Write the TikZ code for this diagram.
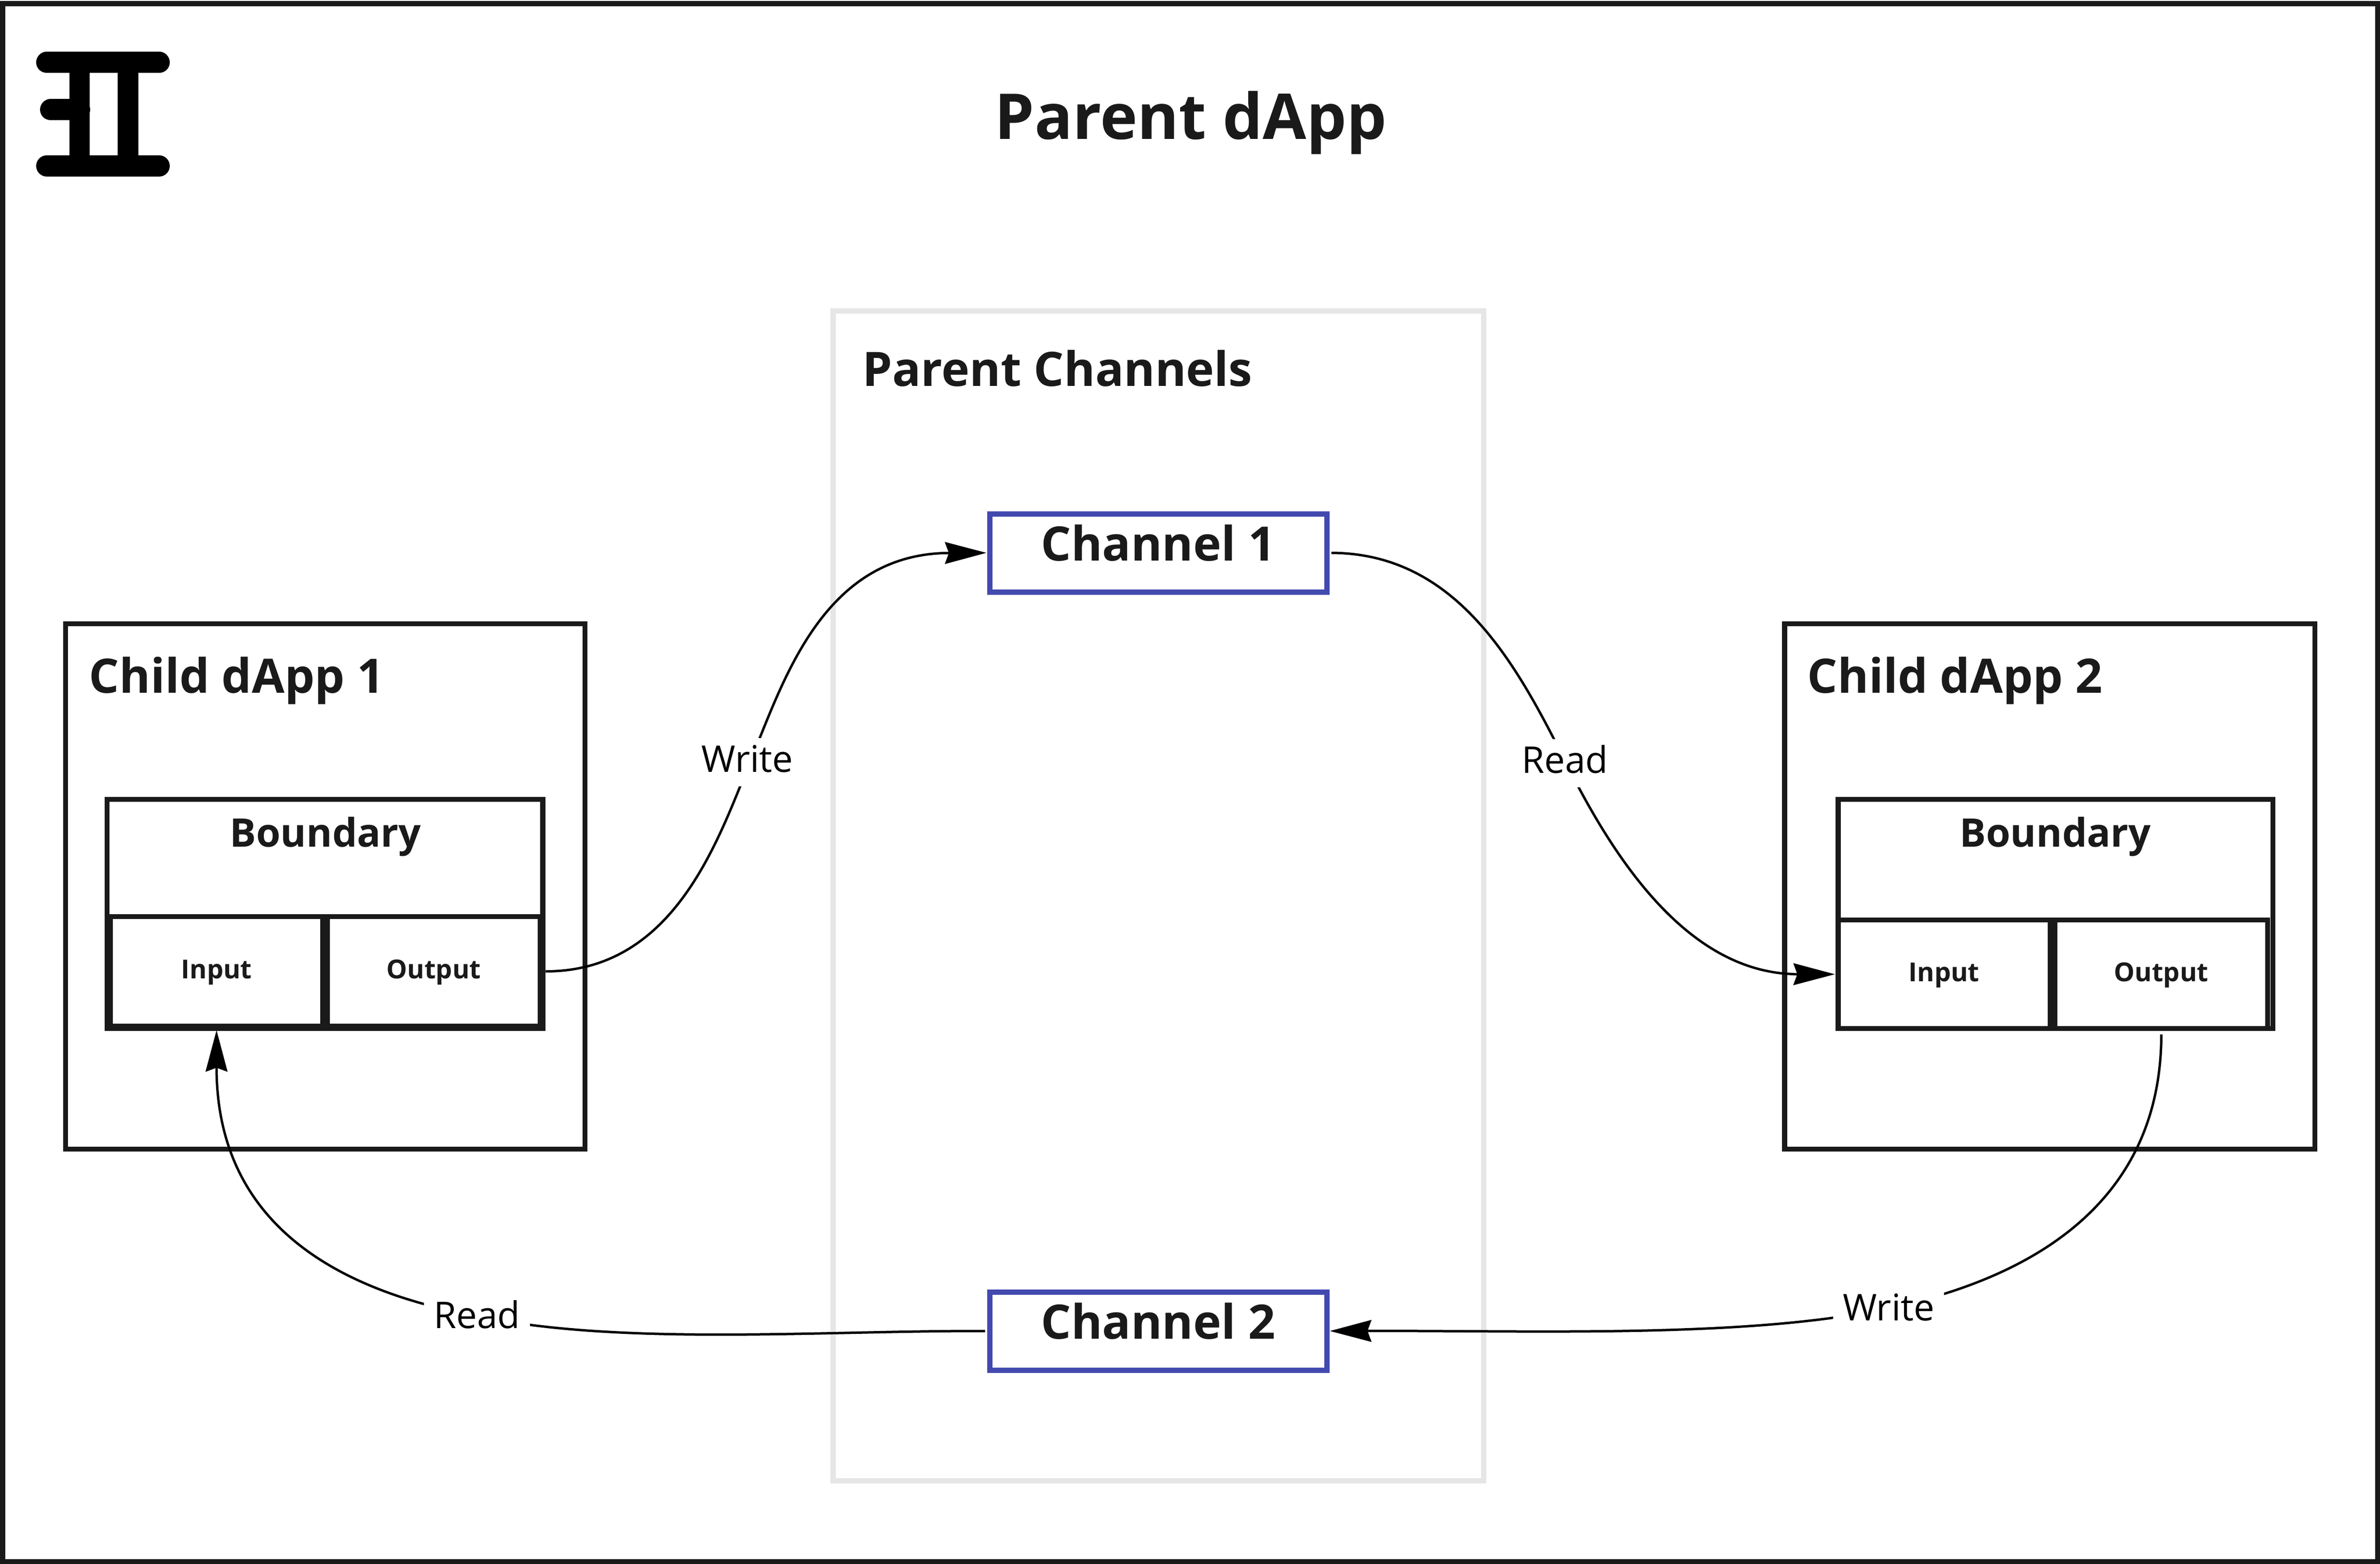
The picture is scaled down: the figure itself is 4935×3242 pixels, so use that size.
\documentclass[tikz,border=0pt]{standalone}
\usepackage{fontspec}
\setmainfont{Open Sans}
\usetikzlibrary{arrows.meta}
\definecolor{ink}{HTML}{1A1A1A}
\definecolor{chan}{HTML}{434AAF}
\definecolor{pale}{HTML}{E6E6E6}
\tikzset{
  box/.style={draw=ink,line width=1.05mm,inner sep=0pt,fill=none,text=ink},
  inout/.style={box,font=\fontsize{15.4}{18}\selectfont\bfseries,text height=4mm,text depth=1.1mm},
  chanbox/.style={draw=chan,line width=1.1mm,inner sep=0pt,minimum width=6.99cm,minimum height=1.62cm,
    text=ink,font=\fontsize{28.0}{34}\selectfont\bfseries,text height=7.6mm,text depth=4.4mm},
  heading/.style={text=ink,inner sep=0pt,anchor=base west,font=\fontsize{28.0}{34}\selectfont\bfseries},
  bndtext/.style={text=ink,inner sep=0pt,anchor=base,font=\fontsize{23.2}{27}\selectfont\bfseries},
  lbl/.style={fill=white,text=black,inner xsep=2mm,inner ysep=1.4mm,text height=5.6mm,text depth=1.6mm,
    font=\fontsize{21.7}{26}\selectfont},
  conn/.style={draw=black,line width=0.5mm},
  head/.style={-{Stealth[length=8.6mm,width=4.5mm,inset=0.8mm]}},
  logo/.style={line width=4.4mm,line cap=round,draw=black},
}
\begin{document}
\begin{tikzpicture}[x=0.1mm,y=-0.1mm]
\useasboundingbox (0,0) rectangle (4935,3242);
\fill[white] (0,0) rectangle (4935,3242);
% outer frame
\draw[draw=ink,line width=1.1mm] (5.5,7.5) rectangle (4930,3237);
% logo
\draw[logo] (97,129.5) -- (330,129.5);
\draw[logo] (97,344) -- (330,344);
\draw[logo] (105,227.5) -- (165,227.5);
\fill[black] (144,125) rectangle (186,350);
\fill[black] (244,125) rectangle (287,350);
% title
\node[text=ink,inner sep=0pt,anchor=base,font=\fontsize{37.3}{44}\selectfont\bfseries] (title) at (2469,289) {Parent dApp};
% parent channels
\node[draw=pale,line width=1.1mm,inner sep=0pt,minimum width=13.495cm,minimum height=24.255cm] (parent) at (2402,1857) {};
\node[heading] (parenttitle) at (1788,800) {Parent Channels};
\node[chanbox] (ch1) at (2401.5,1146) {Channel 1};
\node[chanbox] (ch2) at (2401.5,2759) {Channel 2};
% child 1
\node[box,minimum width=10.77cm,minimum height=10.89cm] (child1) at (674.5,1837.5) {};
\node[heading] (child1title) at (184,1436) {Child dApp 1};
\node[box,minimum width=9.035cm,minimum height=4.75cm] (bnd1) at (673.75,1894.5) {};
\node[bndtext] (bnd1title) at (675,1755) {Boundary};
\node[inout,minimum width=4.40cm,minimum height=2.27cm] (in1) at (449,2013.5) {Input};
\node[inout,minimum width=4.41cm,minimum height=2.27cm] (out1) at (899.5,2013.5) {Output};
% child 2
\node[box,minimum width=10.995cm,minimum height=10.89cm] (child2) at (4250,1837.5) {};
\node[heading] (child2title) at (3747,1436) {Child dApp 2};
\node[box,minimum width=9.015cm,minimum height=4.75cm] (bnd2) at (4262,1894.5) {};
\node[bndtext] (bnd2title) at (4262,1755) {Boundary};
\node[inout,minimum width=4.40cm,minimum height=2.25cm] (in2) at (4031,2019.5) {Input};
\node[inout,minimum width=4.41cm,minimum height=2.25cm] (out2) at (4481.5,2019.5) {Output};
% connector mid points
\coordinate (m1) at (1555,1580);
\coordinate (m2) at (3248,1583);
\coordinate (m3) at (992,2728.5);
\coordinate (m4) at (3920,2711);
% connectors
\draw[conn,head] ([xshift=0.6mm]out1.east)
  .. controls (1400,2014) and (1490,1737) .. (m1)
  .. controls (1624,1414) and (1705,1147) .. ([xshift=-0.1mm]ch1.west);
\draw[conn,head] ([xshift=0.4mm]ch1.east)
  .. controls (3021,1147) and (3145,1377) .. (m2)
  .. controls (3351,1789) and (3505,2019) .. ([xshift=-0.1mm]in2.west);
\draw[conn,head] ([xshift=-0.4mm]ch2.west)
  .. controls (1700,2758) and (1287,2790) .. (m3)
  .. controls (697,2675.7) and (449,2536) .. ([yshift=-0.3mm]in1.south);
\draw[conn,head] ([yshift=-0.7mm]out2.south)
  .. controls (4481,2494) and (4213,2648) .. (m4)
  .. controls (3627,2774) and (3200,2758) .. ([xshift=0.1mm]ch2.east);
% connector labels
\node[lbl] (w1) at (1549.5,1580) {Write};
\node[lbl] (r1) at (3245,1582) {Read};
\node[lbl] (r2) at (989,2733) {Read};
\node[lbl] (w2) at (3916,2717) {Write};
\end{tikzpicture}
\end{document}
